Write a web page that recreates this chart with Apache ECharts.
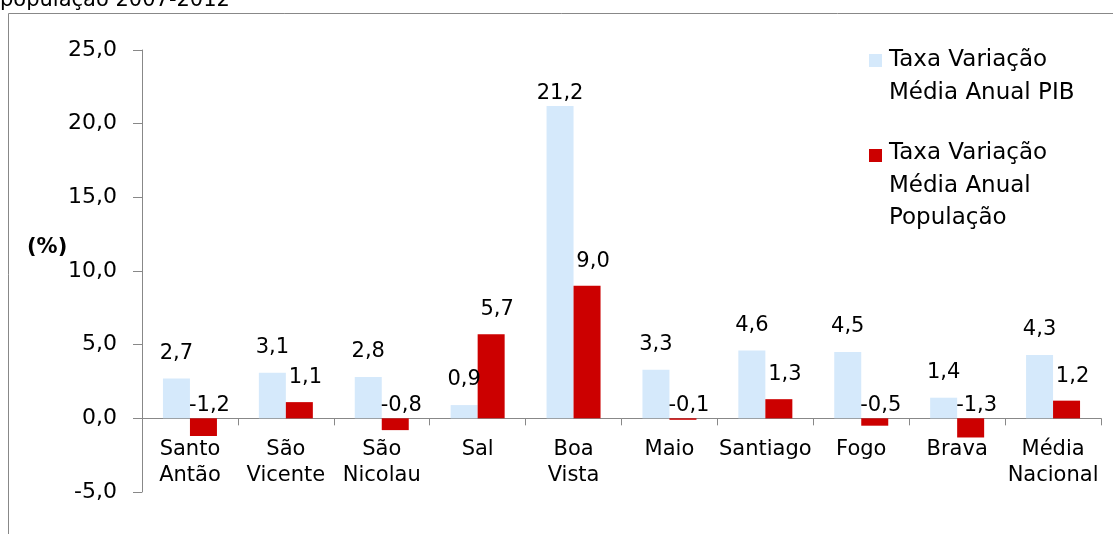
<!DOCTYPE html>
<html>
<head>
<meta charset="utf-8">
<script src="https://cdn.jsdelivr.net/npm/echarts@6/dist/echarts.min.js"></script>
<style>
    html, body { margin: 0; padding: 0; background: #fff; }
    #main { width: 1113px; height: 534px; }
</style>
</head>
<body>
<div id="main"></div>
<script>
// ilhas
const categories = ['Santo\nAntão', 'São\nVicente', 'São\nNicolau', 'Sal', 'Boa\nVista',
    'Maio', 'Santiago', 'Fogo', 'Brava', 'Média\nNacional']
// taxas de variação média anual (%)
const pibValues = [2.7, 3.1, 2.8, 0.9, 21.2, 3.3, 4.6, 4.5, 1.4, 4.3]
const popValues = [-1.2, 1.1, -0.8, 5.7, 9.0, -0.1, 1.3, -0.5, -1.3, 1.2]
const seriesNames = ['Taxa Variação Média Anual PIB', 'Taxa Variação Média Anual População']
const yTicks = { min: -5, max: 25, step: 5 }

const blue = '#d5e9fb'
const red = '#cc0000'
const fmt = v => v.toFixed(1).replace('.', ',')

let myChart = echarts.init(document.getElementById('main'))

// etiquetas ao estilo Excel: acima da barra, negativas junto ao zero
function labelled(values, dist, dx) {
    return values.map(v => ({
        value: v,
        label: {
            position: 'top',
            distance: v > 20 ? 2 : (v < 0 ? 2 : dist),
            offset: [dx, 0]
        }
    }))
}

myChart.setOption({
    animation: false,
    backgroundColor: '#fff',
    grid: { left: 142, right: 12, top: 50, bottom: 42, containLabel: false, outerBoundsMode: 'none' },
    xAxis: {
        type: 'category',
        data: categories,
        axisLine: { onZero: true, lineStyle: { color: '#888', width: 1 } },
        axisTick: { show: true, length: 7, lineStyle: { color: '#888' } },
        axisLabel: {
            // no v6 as etiquetas ficam no fundo da grelha; subir até à linha do zero
            margin: -55,
            fontFamily: 'DejaVu Sans',
            fontSize: 21,
            lineHeight: 26,
            color: '#000',
            interval: 0
        }
    },
    yAxis: {
        type: 'value',
        min: yTicks.min,
        max: yTicks.max,
        interval: yTicks.step,
        axisLine: { show: true, lineStyle: { color: '#888' } },
        axisTick: { show: true, length: 9, lineStyle: { color: '#888' } },
        splitLine: { show: false },
        axisLabel: {
            margin: 25,
            fontFamily: 'DejaVu Sans',
            fontSize: 22,
            color: '#000',
            formatter: fmt
        }
    },
    series: [{
        name: seriesNames[0],
        type: 'bar',
        barWidth: 27,
        barGap: '0%',
        itemStyle: { color: blue },
        label: {
            show: true,
            fontFamily: 'DejaVu Sans',
            fontSize: 21,
            color: '#000',
            formatter: p => fmt(p.value)
        },
        data: labelled(pibValues, 15, 0)
    }, {
        name: seriesNames[1],
        type: 'bar',
        barWidth: 27,
        barGap: '0%',
        itemStyle: { color: red },
        label: {
            show: true,
            fontFamily: 'DejaVu Sans',
            fontSize: 21,
            color: '#000',
            formatter: p => fmt(p.value)
        },
        data: labelled(popValues, 14, 6)
    }],
    graphic: [
        // moldura
        { type: 'rect', shape: { x: 8.5, y: 13.5, width: 1200, height: 600 },
          style: { fill: 'none', stroke: '#888', lineWidth: 1 }, silent: true },
        // título cortado no topo
        { type: 'text', left: 0, top: -10,
          style: { text: 'população 2007-2012', font: '21px "DejaVu Sans"', fill: '#000' } },
        // (%)
        { type: 'text', left: 27, top: 237,
          style: { text: '(%)', font: 'bold 21px "DejaVu Sans"', fill: '#000' } },
        // legenda
        { type: 'rect', shape: { x: 869, y: 54, width: 13, height: 13 }, style: { fill: blue } },
        { type: 'text', left: 889, top: 44,
          style: { text: 'Taxa Variação\nMédia Anual PIB', font: '23px "DejaVu Sans"',
                   lineHeight: 32.5, fill: '#000' } },
        { type: 'rect', shape: { x: 869, y: 149, width: 13, height: 13 }, style: { fill: red } },
        { type: 'text', left: 889, top: 137,
          style: { text: 'Taxa Variação\nMédia Anual\nPopulação', font: '23px "DejaVu Sans"',
                   lineHeight: 32.5, fill: '#000' } }
    ]
})
</script>
</body>
</html>
